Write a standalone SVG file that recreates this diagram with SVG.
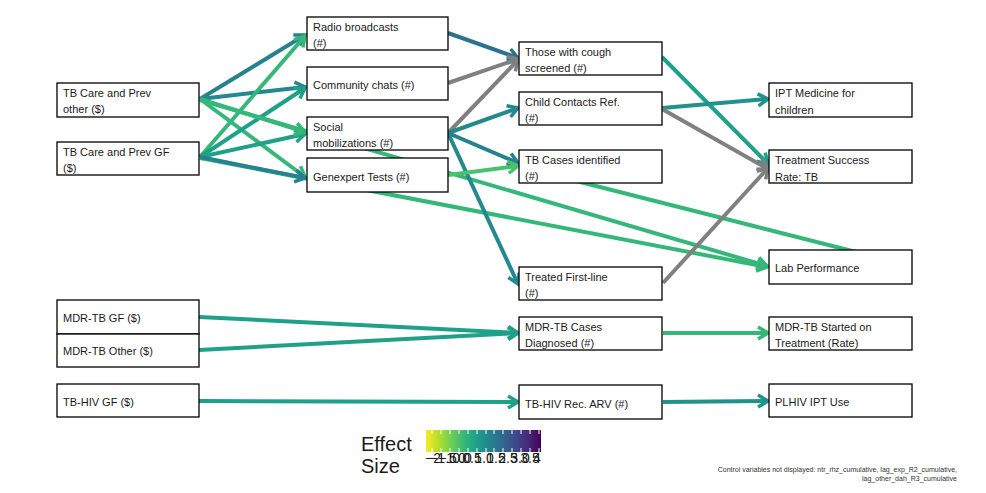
<svg xmlns="http://www.w3.org/2000/svg" width="986" height="493" viewBox="0 0 986 493">
<style>
.node rect{fill:#fff;stroke:#000;stroke-width:1.3}
.node text,.lbl{font-family:"Liberation Sans",Arial,sans-serif;font-size:11px;fill:#1a1a1a}
.e{fill:none;stroke-width:4;stroke-linecap:butt}
.leg{font-family:"Liberation Sans",Arial,sans-serif;fill:#1a1a1a}
.cap{font-family:"Liberation Sans",Arial,sans-serif;font-size:7px;fill:#333;text-anchor:end}
.tk{stroke:#fff;stroke-width:1}
</style>
<defs>
<linearGradient id="vir" x1="0" x2="1" y1="0" y2="0">
<stop offset="0" stop-color="#FDE725"/>
<stop offset="0.111" stop-color="#B4DE2C"/>
<stop offset="0.222" stop-color="#6DCD59"/>
<stop offset="0.333" stop-color="#35B779"/>
<stop offset="0.444" stop-color="#1F9E89"/>
<stop offset="0.556" stop-color="#26828E"/>
<stop offset="0.667" stop-color="#31688E"/>
<stop offset="0.778" stop-color="#3E4A89"/>
<stop offset="0.889" stop-color="#482878"/>
<stop offset="1" stop-color="#440154"/>
</linearGradient>
<marker id="mA" markerUnits="userSpaceOnUse" orient="auto" refX="0" refY="0" markerWidth="30" markerHeight="30" overflow="visible"><path d="M-10,-6 L0,0 L-10,6" fill="none" stroke="#2c728e" stroke-width="3.5"/></marker>
<marker id="mB" markerUnits="userSpaceOnUse" orient="auto" refX="0" refY="0" markerWidth="30" markerHeight="30" overflow="visible"><path d="M-10,-6 L0,0 L-10,6" fill="none" stroke="#26828e" stroke-width="3.5"/></marker>
<marker id="mC" markerUnits="userSpaceOnUse" orient="auto" refX="0" refY="0" markerWidth="30" markerHeight="30" overflow="visible"><path d="M-10,-6 L0,0 L-10,6" fill="none" stroke="#23898e" stroke-width="3.5"/></marker>
<marker id="mD" markerUnits="userSpaceOnUse" orient="auto" refX="0" refY="0" markerWidth="30" markerHeight="30" overflow="visible"><path d="M-10,-6 L0,0 L-10,6" fill="none" stroke="#21918c" stroke-width="3.5"/></marker>
<marker id="mE" markerUnits="userSpaceOnUse" orient="auto" refX="0" refY="0" markerWidth="30" markerHeight="30" overflow="visible"><path d="M-10,-6 L0,0 L-10,6" fill="none" stroke="#1fa088" stroke-width="3.5"/></marker>
<marker id="mF" markerUnits="userSpaceOnUse" orient="auto" refX="0" refY="0" markerWidth="30" markerHeight="30" overflow="visible"><path d="M-10,-6 L0,0 L-10,6" fill="none" stroke="#35b779" stroke-width="3.5"/></marker>
<marker id="mG" markerUnits="userSpaceOnUse" orient="auto" refX="0" refY="0" markerWidth="30" markerHeight="30" overflow="visible"><path d="M-10,-6 L0,0 L-10,6" fill="none" stroke="#4ac16d" stroke-width="3.5"/></marker>
<marker id="mH" markerUnits="userSpaceOnUse" orient="auto" refX="0" refY="0" markerWidth="30" markerHeight="30" overflow="visible"><path d="M-10,-6 L0,0 L-10,6" fill="none" stroke="#808080" stroke-width="3.5"/></marker>
</defs>
<rect width="986" height="493" fill="#fff"/>
<g id="edges">
<path class="e" d="M200,100 L767,266" stroke="#35b779" marker-end="url(#mF)"/>
<path class="e" d="M200,158 L767,267" stroke="#35b779" marker-end="url(#mF)"/>
<path class="e" d="M525,168 L860,253" stroke="#35b779"/>
<path class="e" d="M200,99 L305,35" stroke="#26828e" marker-end="url(#mB)"/>
<path class="e" d="M200,99 L305,87" stroke="#23898e" marker-end="url(#mC)"/>
<path class="e" d="M200,99 L305,177" stroke="#35b779" marker-end="url(#mF)"/>
<path class="e" d="M200,157 L305,36" stroke="#35b779" marker-end="url(#mF)"/>
<path class="e" d="M200,157 L305,88" stroke="#1fa088" marker-end="url(#mE)"/>
<path class="e" d="M200,157 L305,134" stroke="#1fa088" marker-end="url(#mE)"/>
<path class="e" d="M200,99 L305,132" stroke="#35b779" stroke-width="5" marker-end="url(#mF)"/>
<path class="e" d="M200,157 L305,178" stroke="#26828e" stroke-width="5" marker-end="url(#mB)"/>
<path class="e" d="M448,33 L518,58" stroke="#2c728e" stroke-width="4.5" marker-end="url(#mA)"/>
<path class="e" d="M448,83 L518,59" stroke="#808080" marker-end="url(#mH)"/>
<path class="e" d="M448,133 L518,60" stroke="#808080" marker-end="url(#mH)"/>
<path class="e" d="M448,133 L518,108" stroke="#23898e" marker-end="url(#mC)"/>
<path class="e" d="M448,133 L518,163" stroke="#26828e" stroke-width="4.5" marker-end="url(#mB)"/>
<path class="e" d="M448,133 L518,284" stroke="#23898e" stroke-width="3.5" marker-end="url(#mC)"/>
<path class="e" d="M448,175 L518,166" stroke="#4ac16d" marker-end="url(#mG)"/>
<path class="e" d="M662,57 L768,164" stroke="#1fa088" marker-end="url(#mE)"/>
<path class="e" d="M662,108 L768,99" stroke="#21918c" marker-end="url(#mD)"/>
<path class="e" d="M662,109 L768,169" stroke="#808080" marker-end="url(#mH)"/>
<path class="e" d="M663,283 L768,168" stroke="#808080" marker-end="url(#mH)"/>
<path class="e" d="M199,317 L518,333" stroke="#1fa088" marker-end="url(#mE)"/>
<path class="e" d="M199,350 L518,333" stroke="#1fa088" marker-end="url(#mE)"/>
<path class="e" d="M663,333 L768,333" stroke="#35b779" marker-end="url(#mF)"/>
<path class="e" d="M199,401 L518,402" stroke="#1fa088" marker-end="url(#mE)"/>
<path class="e" d="M663,402 L768,401" stroke="#21918c" marker-end="url(#mD)"/>
</g>
<g id="n_tbother" class="node"><rect x="57" y="83" width="142" height="34"/><text x="63" y="97">TB Care and Prev</text><text x="63" y="113">other ($)</text></g>
<g id="n_tbgf" class="node"><rect x="57" y="142" width="142" height="33"/><text x="63" y="156">TB Care and Prev GF</text><text x="63" y="172">($)</text></g>
<g id="n_radio" class="node"><rect x="307" y="17" width="141" height="33"/><text x="313" y="31">Radio broadcasts</text><text x="313" y="47">(#)</text></g>
<g id="n_comm" class="node"><rect x="307" y="67" width="141" height="33"/><text x="313" y="89">Community chats (#)</text></g>
<g id="n_social" class="node"><rect x="307" y="117" width="141" height="33"/><text x="313" y="131">Social</text><text x="313" y="147">mobilizations (#)</text></g>
<g id="n_genex" class="node"><rect x="307" y="158" width="141" height="34"/><text x="313" y="181">Genexpert Tests (#)</text></g>
<g id="n_cough" class="node"><rect x="519" y="42" width="143" height="33"/><text x="525" y="56">Those with cough</text><text x="525" y="72">screened (#)</text></g>
<g id="n_child" class="node"><rect x="519" y="92" width="143" height="33"/><text x="525" y="106">Child Contacts Ref.</text><text x="525" y="122">(#)</text></g>
<g id="n_tbcases" class="node"><rect x="519" y="150" width="143" height="33"/><text x="525" y="164">TB Cases identified</text><text x="525" y="180">(#)</text></g>
<g id="n_treated" class="node"><rect x="519" y="267" width="143" height="33"/><text x="525" y="281">Treated First-line</text><text x="525" y="297">(#)</text></g>
<g id="n_mdrcases" class="node"><rect x="519" y="317" width="143" height="33"/><text x="525" y="331">MDR-TB Cases</text><text x="525" y="347">Diagnosed (#)</text></g>
<g id="n_arv" class="node"><rect x="519" y="385" width="143" height="34"/><text x="525" y="408">TB-HIV Rec. ARV (#)</text></g>
<g id="n_ipt" class="node"><rect x="769" y="83" width="143" height="34"/><text x="775" y="97">IPT Medicine for</text><text x="775" y="114">children</text></g>
<g id="n_ts" class="node"><rect x="769" y="150" width="143" height="33"/><text x="775" y="164">Treatment Success</text><text x="775" y="181">Rate: TB</text></g>
<g id="n_lab" class="node"><rect x="769" y="250" width="143" height="34"/><text x="775" y="272">Lab Performance</text></g>
<g id="n_mdrstart" class="node"><rect x="769" y="317" width="143" height="33"/><text x="775" y="331">MDR-TB Started on</text><text x="775" y="347">Treatment (Rate)</text></g>
<g id="n_plhiv" class="node"><rect x="769" y="384" width="143" height="33"/><text x="775" y="406">PLHIV IPT Use</text></g>
<g id="n_mdrgf" class="node"><rect x="57" y="300" width="142" height="34"/><text x="63" y="322">MDR-TB GF ($)</text></g>
<g id="n_mdroth" class="node"><rect x="57" y="334" width="142" height="33"/><text x="63" y="355">MDR-TB Other ($)</text></g>
<g id="n_tbhivgf" class="node"><rect x="57" y="384" width="142" height="33"/><text x="63" y="406">TB-HIV GF ($)</text></g>
<g id="legend">
<text class="leg" x="361" y="451" font-size="20">Effect</text>
<text class="leg" x="361" y="473" font-size="20">Size</text>
<rect x="426" y="430" width="115" height="22" fill="url(#vir)"/>
<path class="tk" d="M432,430v4M441,430v4M450,430v4M459,430v4M468,430v4M477,430v4M486,430v4M494,430v4M503,430v4M512,430v4M521,430v4M530,430v4M539,430v4M432,452v-4M441,452v-4M450,452v-4M459,452v-4M468,452v-4M477,452v-4M486,452v-4M494,452v-4M503,452v-4M512,452v-4M521,452v-4M530,452v-4M539,452v-4"/>
<g class="leg" font-size="14" text-anchor="middle">
<text x="433" y="463">−2</text>
<text x="443" y="463">−1.5</text>
<text x="452" y="463">−1.0</text>
<text x="462" y="463">0.0</text>
<text x="472" y="463">0.5</text>
<text x="484" y="463">1.0</text>
<text x="496" y="463">1.5</text>
<text x="508" y="463">2.5</text>
<text x="520" y="463">3.0</text>
<text x="530" y="463">3.5</text>
<text x="537" y="463">4</text>
</g>
</g>
<text class="cap" x="957" y="472">Control variables not displayed: ntr_rhz_cumulative, lag_exp_R2_cumulative,</text>
<text class="cap" x="957" y="481">lag_other_dah_R3_cumulative</text>
</svg>
